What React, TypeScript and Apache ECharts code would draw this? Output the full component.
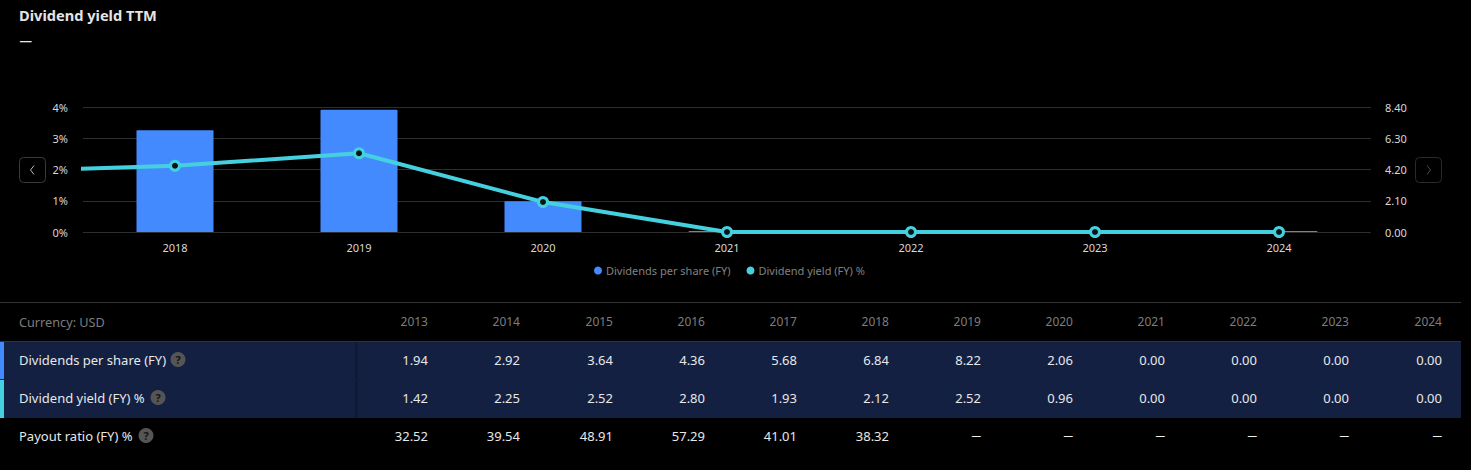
import React, { useEffect, useRef } from "react";
import * as echarts from "echarts";

const years = ["2013", "2014", "2015", "2016", "2017", "2018", "2019", "2020", "2021", "2022", "2023", "2024"];
const dividendsPerShare = [1.94, 2.92, 3.64, 4.36, 5.68, 6.84, 8.22, 2.06, 0, 0, 0, 0];
const dividendYield = [1.42, 2.25, 2.52, 2.8, 1.93, 2.12, 2.52, 0.96, 0, 0, 0, 0];
const payoutRatio = ["32.52", "39.54", "48.91", "57.29", "41.01", "38.32", "—", "—", "—", "—", "—", "—"];
const rowLabels = ["Dividends per share (FY)", "Dividend yield (FY) %", "Payout ratio (FY) %"];
const helpIconX = [178, 158, 146];
const rowCenterY = [359.5, 397.5, 435.5];
const columnRightX = [428, 520, 613, 705, 797, 889, 981, 1073, 1165, 1257, 1349, 1442];

const FONT = "'Noto Sans', sans-serif";
const BLUE = "#448aff";
const CYAN = "#45d0e0";
const ROW_BG = "#132042";

function txt(x: number, y: number, text: string, fill: string, size: number, align = "left", weight: any = "normal") {
  return {
    type: "text",
    x,
    y,
    silent: true,
    style: { text, fill, fontSize: size, fontFamily: FONT, fontWeight: weight, align, verticalAlign: "middle" },
  };
}

function buildGraphics() {
  const els: any[] = [];
  // Title
  els.push(txt(19, 15, "Dividend yield TTM", "#e4e4e4", 14.6, "left", "bold"));
  els.push(txt(19.5, 40, "—", "#e8e8e8", 12.5, "left", "bold"));

  // Nav buttons
  els.push({ type: "rect", shape: { x: 19.5, y: 157.5, width: 26, height: 25, r: 4 }, style: { fill: "none", stroke: "#3a3a3a", lineWidth: 1 } });
  els.push({ type: "polyline", shape: { points: [[34, 165.5], [30.5, 170], [34, 174.5]] }, style: { fill: "none", stroke: "#b8b8b8", lineWidth: 1 } });
  els.push({ type: "rect", shape: { x: 1415.5, y: 157.5, width: 26, height: 25, r: 4 }, style: { fill: "none", stroke: "#2a2a2a", lineWidth: 1 } });
  els.push({ type: "polyline", shape: { points: [[1427, 165.5], [1430.5, 170], [1427, 174.5]] }, style: { fill: "none", stroke: "#4a4a4a", lineWidth: 1 } });

  // Table frame
  els.push({ type: "line", shape: { x1: 0, y1: 302.5, x2: 1461, y2: 302.5 }, style: { stroke: "#333333", lineWidth: 1 } });
  els.push(txt(19, 322, "Currency: USD", "#7d7d7d", 12.7));
  years.forEach((y, i) => els.push(txt(columnRightX[i], 321, y, "#7d7d7d", 12, "right")));

  // Highlight rows
  els.push({ type: "rect", shape: { x: 0, y: 342, width: 1461, height: 76 }, style: { fill: ROW_BG } });
  els.push({ type: "rect", shape: { x: 355, y: 342, width: 3, height: 76 }, style: { fill: "#101a36" } });
  els.push({ type: "line", shape: { x1: 0, y1: 341.5, x2: 1461, y2: 341.5 }, style: { stroke: "#333333", lineWidth: 1 } });
  els.push({ type: "line", shape: { x1: 0, y1: 379.5, x2: 1461, y2: 379.5 }, style: { stroke: "#1e1e1e", lineWidth: 1 } });
  els.push({ type: "rect", shape: { x: 0, y: 342, width: 4, height: 37 }, style: { fill: BLUE } });
  els.push({ type: "rect", shape: { x: 0, y: 380, width: 4, height: 38 }, style: { fill: CYAN } });

  // Rows
  const rows = [
    dividendsPerShare.map((v) => v.toFixed(2)),
    dividendYield.map((v) => v.toFixed(2)),
    payoutRatio,
  ];
  rowLabels.forEach((label, r) => {
    const cy = rowCenterY[r];
    els.push(txt(19, cy, label, "#e8e8e8", 13));
    els.push({ type: "circle", shape: { cx: helpIconX[r], cy, r: 7.5 }, style: { fill: "#555555" } });
    els.push(txt(helpIconX[r], cy, "?", "#141414", 11, "center", "bold"));
    rows[r].forEach((value, c) =>
      value === "—"
        ? els.push(txt(columnRightX[c], cy, value, "#f0f0f0", 9.5, "right", "bold"))
        : els.push(txt(columnRightX[c], cy, value, "#e8e8e8", 13, "right"))
    );
  });
  return els;
}

export default function App() {
  const ref = useRef<HTMLDivElement>(null);

  useEffect(() => {
    document.body.style.margin = "0";
    document.body.style.background = "#000";
    const chart = echarts.init(ref.current!, null, { renderer: "svg" });
    const axisText = { color: "#d8d8d8", fontFamily: FONT, fontSize: 11 };
    chart.setOption({
      animation: false,
      backgroundColor: "#000000",
      grid: { left: 83, top: 107, width: 1288, height: 125, containLabel: false },
      legend: {
        show: true,
        left: 594,
        top: 265,
        icon: "circle",
        itemWidth: 8,
        itemHeight: 8,
        itemGap: 16,
        padding: 0,
        textStyle: { color: "#808080", fontFamily: FONT, fontSize: 11, padding: [0, 0, 0, -1] },
        data: [
          { name: "Dividends per share (FY)", itemStyle: { color: BLUE, borderWidth: 0 } },
          { name: "Dividend yield (FY) %", itemStyle: { color: CYAN, borderWidth: 0 } },
        ],
      },
      xAxis: {
        type: "category",
        data: years,
        min: years.indexOf("2018"),
        max: years.indexOf("2024"),
        axisLine: { show: false },
        axisTick: { show: false },
        axisLabel: { ...axisText, interval: 0, margin: 10 },
        splitLine: { show: false },
      },
      yAxis: [
        {
          type: "value",
          min: 0,
          max: 4,
          interval: 1,
          axisLine: { show: false },
          axisTick: { show: false },
          axisLabel: { ...axisText, margin: 15, formatter: "{value}%" },
          splitLine: { show: true, lineStyle: { color: "#2e2e2e", width: 1 } },
        },
        {
          type: "value",
          position: "right",
          min: 0,
          max: 8.4,
          interval: 2.1,
          axisLine: { show: false },
          axisTick: { show: false },
          axisLabel: { ...axisText, margin: 14, formatter: (v: number) => v.toFixed(2) },
          splitLine: { show: false },
        },
      ],
      series: [
        {
          name: "Dividends per share (FY)",
          type: "bar",
          yAxisIndex: 1,
          data: dividendsPerShare,
          barWidth: 77,
          barMinHeight: 1,
          itemStyle: { color: BLUE, borderRadius: [1, 1, 0, 0] },
        },
        {
          name: "Dividend yield (FY) %",
          type: "line",
          yAxisIndex: 0,
          data: dividendYield,
          showAllSymbol: true,
          symbol: "circle",
          symbolSize: 9,
          lineStyle: { color: CYAN, width: 4 },
          itemStyle: { color: "#0a1414", borderColor: CYAN, borderWidth: 3 },
          z: 5,
        },
      ],
      graphic: buildGraphics(),
    });
    return () => chart.dispose();
  }, []);

  return <div ref={ref} style={{ width: 1471, height: 470, display: "block" }} />;
}
